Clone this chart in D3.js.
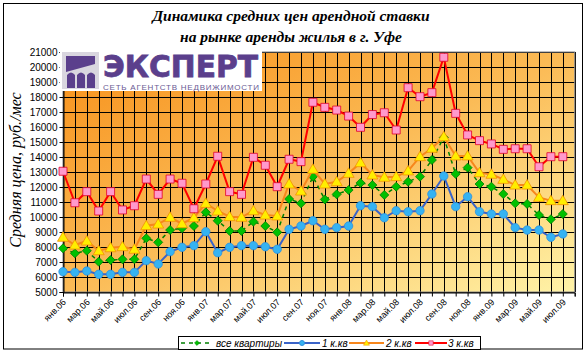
<!DOCTYPE html>
<html><head><meta charset="utf-8">
<script src="https://cdn.jsdelivr.net/npm/d3@7/dist/d3.min.js"></script>
<style>body{margin:0;background:#fff}</style></head>
<body><svg id="c" width="588" height="355"></svg>
<script>
const months = ["янв.06","фев.06","мар.06","апр.06","май.06","июн.06","июл.06","авг.06","сен.06","окт.06","ноя.06","дек.06",
"янв.07","фев.07","мар.07","апр.07","май.07","июн.07","июл.07","авг.07","сен.07","окт.07","ноя.07","дек.07",
"янв.08","фев.08","мар.08","апр.08","май.08","июн.08","июл.08","авг.08","сен.08","окт.08","ноя.08","дек.08",
"янв.09","фев.09","мар.09","апр.09","май.09","июн.09","июл.09","авг.09"];
const allFlats = [7910,7580,7750,7020,7130,7180,7180,8580,8310,9130,9250,9400,
10310,9750,9070,9070,9690,9400,8980,11200,10910,12690,11170,11510,
11800,12270,12130,11470,12020,12350,12690,13800,15300,12870,13290,12200,
12020,11530,10910,10870,10130,9850,10200];
const room1 = [6350,6310,6400,6180,6180,6310,6310,7090,6870,7690,7980,8090,
9020,7620,7980,8090,8090,8020,7850,9180,9400,9750,9180,9290,
9400,10750,10690,9950,10420,10350,10420,11530,12730,10690,11350,10350,
10200,10200,9290,9130,9130,8650,8870];
const room2 = [8650,8130,8400,7750,7950,8020,7850,9420,9530,9980,9550,9950,
10910,10400,10020,9980,10420,10130,10070,12200,11730,13180,12200,12350,
12910,13620,12800,12650,12690,13070,14020,14580,15350,14070,14070,12950,
12850,12510,12130,12130,11310,11090,11090];
const room3 = [13050,10950,11690,10400,11690,10470,10750,12530,11510,12530,12250,10550,
12200,14050,11690,11510,13980,13450,12020,13850,13690,17650,17310,17130,
16730,15980,16830,16950,15800,18620,18020,18290,20650,16910,15470,15090,
14870,14510,14550,14550,13350,14020,14020];
const yTicks = d3.range(5000, 21001, 1000);
const seriesNames = ["все квартиры","1 к.кв","2 к.кв","3 к.кв"];
const titleLines = ["Динамика средних цен арендной ставки","на рынке аренды жилья в г. Уфе"];
const yTitle = "Средняя цена, руб./мес";

const svg = d3.select("#c");
const L=63, R=574.7, T=52, B=292;
const x = d3.scalePoint().domain(months).range([L,R]);
const y = d3.scaleLinear().domain([5000,21000]).range([B,T]);

svg.append("rect").attr("x",3.5).attr("y",3.5).attr("width",579).attr("height",345.5)
  .attr("fill","#fff").attr("stroke","#000").attr("stroke-width",1);

const defs = svg.append("defs");
const g = defs.append("linearGradient").attr("id","bg").attr("x1",0).attr("y1",0).attr("x2",1).attr("y2",1);
g.append("stop").attr("offset","0").attr("stop-color","#f7901a");
g.append("stop").attr("offset","0.5").attr("stop-color","#fbbb56");
g.append("stop").attr("offset","1").attr("stop-color","#fff3a8");
svg.append("rect").attr("x",L).attr("y",T).attr("width",R-L).attr("height",B-T).attr("fill","url(#bg)");

svg.append("g").selectAll("line").data(yTicks).join("line")
  .attr("x1",L).attr("x2",R).attr("y1",d=>Math.round(y(d))+0.5).attr("y2",d=>Math.round(y(d))+0.5)
  .attr("stroke","#000").attr("stroke-width",1);
svg.append("g").selectAll("line").data(months).join("line")
  .attr("x1",d=>Math.round(x(d))+0.5).attr("x2",d=>Math.round(x(d))+0.5).attr("y1",T).attr("y2",B)
  .attr("stroke","#000").attr("stroke-width",1);
svg.append("rect").attr("x",L).attr("y",T).attr("width",R-L).attr("height",B-T).attr("fill","none").attr("stroke","#808080");

const ya = svg.append("g").attr("transform",`translate(${L+0.5},0)`)
  .call(d3.axisLeft(y).tickValues(yTicks).tickSize(4).tickFormat(d3.format("d")));
ya.select(".domain").attr("stroke","#000");
ya.selectAll("text").attr("font-family","Arial, Liberation Sans").attr("font-size","10px").attr("fill","#000").attr("x",-6);
const xa = svg.append("g").attr("transform",`translate(0,${B+0.5})`)
  .call(d3.axisBottom(x).tickSize(4).tickFormat((d,i)=> i%2===0 && i<43 ? d : ""));
xa.select(".domain").attr("stroke","#000");
xa.selectAll("text").attr("font-family","Arial, Liberation Sans").attr("font-size","9px").attr("fill","#000")
  .attr("text-anchor","end").attr("transform","translate(-3,4) rotate(-45)").attr("dy","0.3em").attr("y",6);

// logo
const lg = svg.append("g");
lg.append("rect").attr("x",60).attr("y",50).attr("width",202).attr("height",41).attr("fill","#fff");
lg.append("rect").attr("x",62).attr("y",52).attr("width",37).attr("height",37).attr("fill","#d9d6df");
lg.append("path").attr("d","M66,56 L95,56 L95,64 L66,72 Z").attr("fill","#5b3f8c");
[67,77,87].forEach(cx=>{
  lg.append("path").attr("d",`M${cx},88 L${cx},75 Q${cx+4},70 ${cx+8},75 L${cx+8},88 Z`).attr("fill","#5b3f8c");
});
lg.append("text").attr("x",103).attr("y",77).attr("font-family","DejaVu Sans, Arial").attr("font-weight","bold")
  .attr("font-size","31px").attr("fill","#5b3f8c").attr("stroke","#5b3f8c").attr("stroke-width",0.8)
  .attr("textLength",155).attr("lengthAdjust","spacingAndGlyphs").text("ЭКСПЕРТ");
lg.append("text").attr("x",103).attr("y",89.5).attr("font-family","Arial, Liberation Sans")
  .attr("font-size","8px").attr("fill","#6a5a94").attr("textLength",156).attr("lengthAdjust","spacing").text("СЕТЬ АГЕНТСТВ НЕДВИЖИМОСТИ");

const line = d3.line().x((d,i)=>x(months[i])).y(d=>y(d));
const diamond = "M0,-4.5L4.5,0L0,4.5L-4.5,0Z";
const tri = "M0,-5.5L5.5,4L-5.5,4Z";
const sq = "M-4,-4H4V4H-4Z";
const series = [
  {data:allFlats, stroke:"#008000", dash:"4,4", w:1.5, shape:diamond, fill:"#00c000", ms:"#008000"},
  {data:room1, stroke:"#3a63c8", dash:null, w:2, shape:"circle", fill:"#35b3f2", ms:"#2f8fdc"},
  {data:room2, stroke:"#f7861c", dash:null, w:2, shape:tri, fill:"#ffee00", ms:"#f39200"},
  {data:room3, stroke:"#ff0000", dash:null, w:2, shape:sq, fill:"#ff99cc", ms:"#e0002a"}
];
series.forEach(s=>{
  svg.append("path").datum(s.data).attr("d",line).attr("fill","none").attr("stroke",s.stroke)
    .attr("stroke-width",s.w).attr("stroke-dasharray",s.dash);
  const gg = svg.append("g");
  s.data.forEach((v,i)=>{
    const cx=x(months[i]), cy=y(v);
    if(s.shape==="circle") gg.append("circle").attr("cx",cx).attr("cy",cy).attr("r",4.2).attr("fill",s.fill).attr("stroke",s.ms).attr("stroke-width",0.8);
    else gg.append("path").attr("d",s.shape).attr("transform",`translate(${cx},${cy})`).attr("fill",s.fill).attr("stroke",s.ms).attr("stroke-width",0.8);
  });
});

svg.selectAll(".tt").data(titleLines).join("text").attr("class","tt")
  .attr("x",291).attr("y",(d,i)=>21+i*21).attr("text-anchor","middle")
  .attr("font-family","Liberation Serif, Times New Roman").attr("font-style","italic").attr("font-weight","bold")
  .attr("font-size","15.5px").attr("fill","#000").text(d=>d);
svg.append("text").attr("transform","translate(21,170) rotate(-90)").attr("text-anchor","middle")
  .attr("font-family","Liberation Serif, Times New Roman").attr("font-style","italic")
  .attr("font-size","16px").attr("fill","#000").text(yTitle);

const leg = svg.append("g");
leg.append("rect").attr("x",178.5).attr("y",336.5).attr("width",302).attr("height",13).attr("fill","#fff").attr("stroke","#000");
const legItems = [
  {x0:181, x1:213, tx:216},
  {x0:284, x1:320, tx:322},
  {x0:349, x1:384, tx:386},
  {x0:415, x1:447, tx:448}
];
legItems.forEach((it,k)=>{
  const s = series[k], ly=343;
  leg.append("line").attr("x1",it.x0).attr("x2",it.x1).attr("y1",ly).attr("y2",ly).attr("stroke",s.stroke)
    .attr("stroke-width",s.w).attr("stroke-dasharray",s.dash);
  const cx=(it.x0+it.x1)/2;
  if(s.shape==="circle") leg.append("circle").attr("cx",cx).attr("cy",ly).attr("r",2.5).attr("fill",s.fill).attr("stroke",s.ms);
  else leg.append("path").attr("d",s.shape).attr("transform",`translate(${cx},${ly}) scale(0.55)`).attr("fill",s.fill).attr("stroke",s.ms);
  leg.append("text").attr("x",it.tx).attr("y",ly+3.5).attr("font-family","Arial, Liberation Sans").attr("font-style","italic")
    .attr("font-size","10px").attr("fill","#000").text(seriesNames[k]);
});
</script></body></html>
